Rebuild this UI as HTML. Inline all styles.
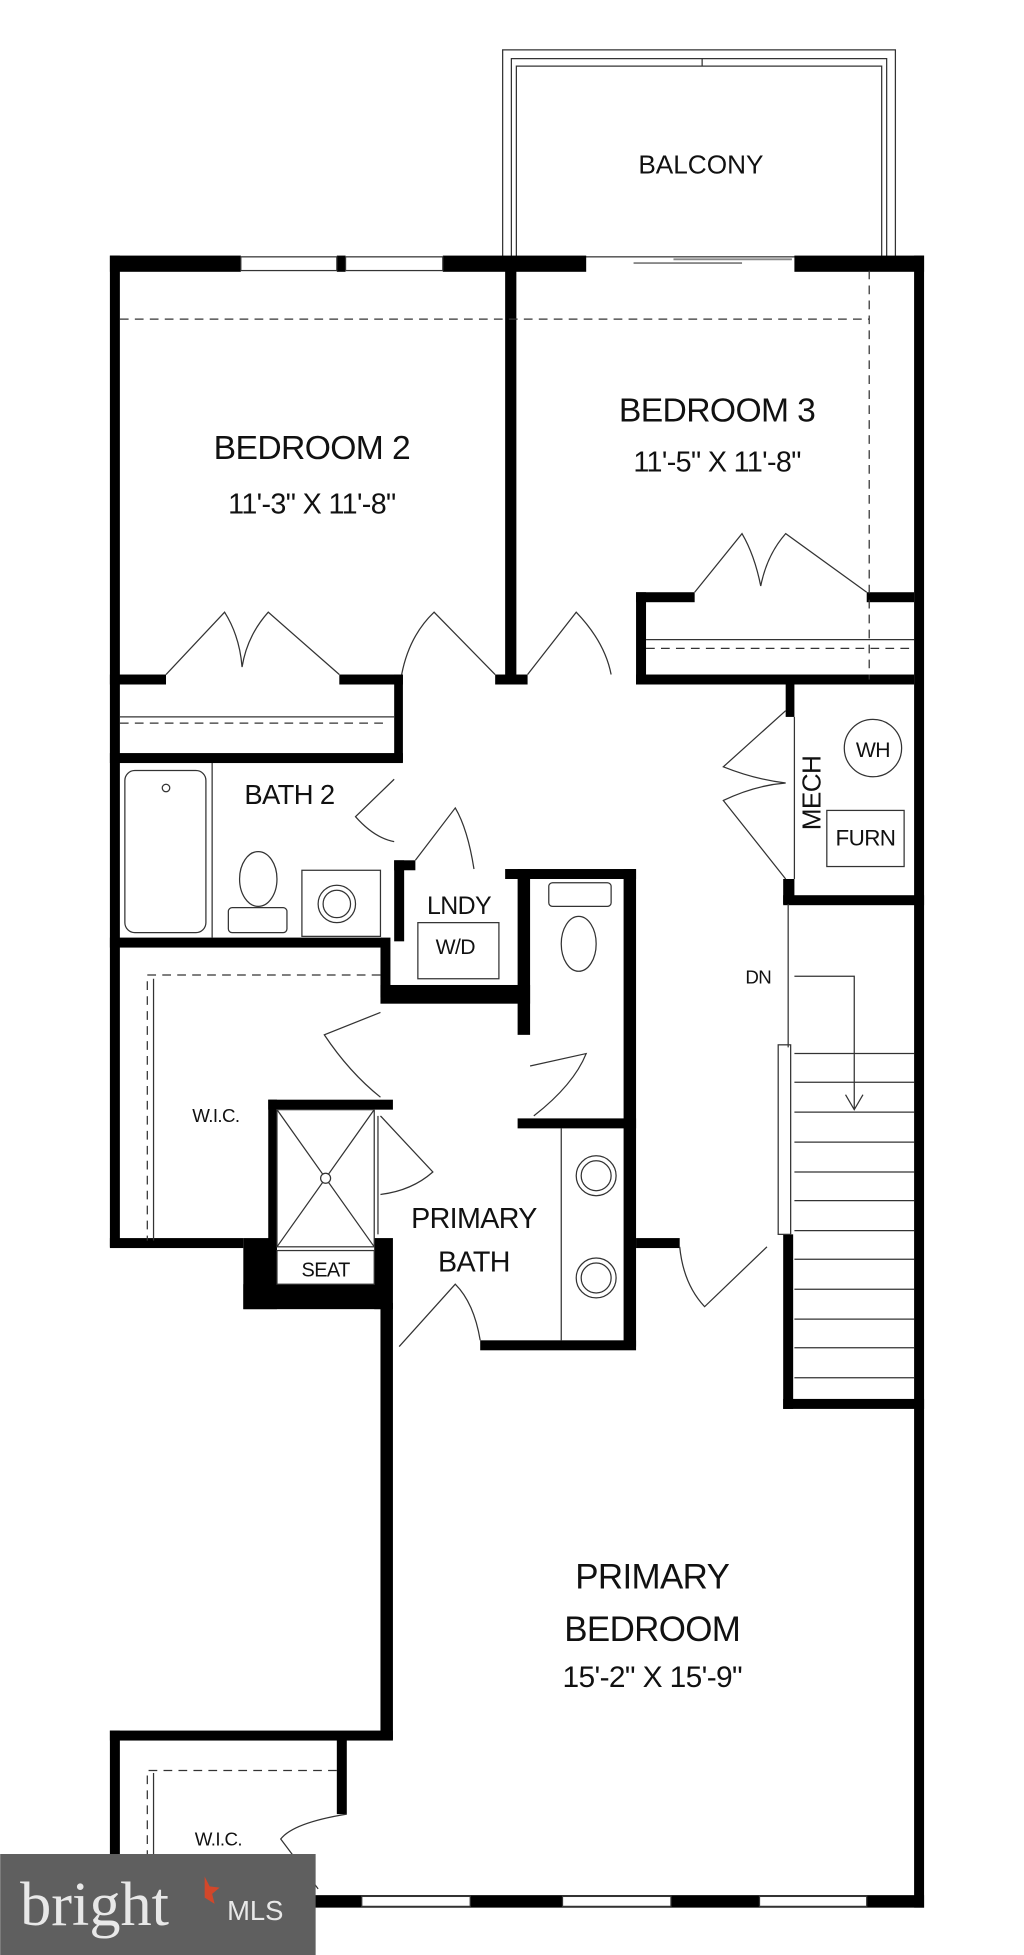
<!DOCTYPE html>
<html><head><meta charset="utf-8"><style>
html,body{margin:0;padding:0;background:#fff;}
svg{display:block;}
text{font-family:"Liberation Sans",sans-serif;fill:#111;}
</style></head><body>
<svg width="1024" height="1955" viewBox="0 0 821 1568" xmlns="http://www.w3.org/2000/svg">
<rect width="821" height="1568" fill="#fff"/>
<g fill="none" stroke="#333" stroke-width="1">
<rect x="403" y="40" width="315" height="166"/>
<path d="M410 206 V47 H711 V206"/>
<path d="M414 206 V53 H707 V206"/>
<line x1="563" y1="47" x2="563" y2="53"/>
</g>
<text x="562" y="139" font-size="21" text-anchor="middle">BALCONY</text>
<g fill="#000">
<rect x="88" y="205" width="105" height="13"/>
<rect x="270" y="205" width="7" height="13"/>
<rect x="355" y="205" width="115" height="13"/>
<rect x="637" y="205" width="104" height="13"/>
<rect x="88" y="205" width="8" height="795"/>
<rect x="733" y="205" width="8" height="1325"/>
<rect x="405" y="217" width="9" height="332"/>
<rect x="510" y="475" width="47" height="8"/>
<rect x="695" y="475" width="38" height="8"/>
<rect x="510" y="475" width="8" height="74"/>
<rect x="88" y="541" width="45" height="8"/>
<rect x="272" y="541" width="51" height="8"/>
<rect x="397" y="541" width="26" height="8"/>
<rect x="510" y="541" width="223" height="8"/>
<rect x="316" y="541" width="7" height="70"/>
<rect x="88" y="604" width="235" height="8"/>
<rect x="88" y="752" width="218" height="8"/>
<rect x="305" y="752" width="8" height="48"/>
<rect x="316" y="690" width="8" height="65"/>
<rect x="316" y="690" width="17" height="8"/>
<rect x="405" y="697" width="105" height="8"/>
<rect x="415" y="697" width="10" height="133"/>
<rect x="500" y="697" width="10" height="383"/>
<rect x="305" y="790" width="120" height="15"/>
<rect x="415" y="897" width="95" height="8"/>
<rect x="88" y="993" width="107" height="8"/>
<rect x="215" y="882" width="100" height="8"/>
<rect x="215" y="882" width="7" height="113"/>
<rect x="195" y="993" width="27" height="57"/>
<rect x="195" y="1030" width="110" height="20"/>
<rect x="300" y="993" width="15" height="57"/>
<rect x="305" y="1045" width="10" height="350"/>
<rect x="385" y="1075" width="125" height="8"/>
<rect x="510" y="993" width="35" height="8"/>
<rect x="630" y="548" width="7" height="27"/>
<rect x="628" y="705" width="9" height="20"/>
<rect x="628" y="718" width="113" height="8"/>
<rect x="628" y="990" width="8" height="140"/>
<rect x="628" y="1122" width="113" height="8"/>
<rect x="88" y="1388" width="227" height="8"/>
<rect x="88" y="1388" width="8" height="142"/>
<rect x="270" y="1395" width="8" height="60"/>
<rect x="88" y="1520" width="653" height="10"/>
</g>
<g fill="#fff" stroke="#333" stroke-width="1">
<rect x="290" y="1521" width="87" height="8"/>
<rect x="451" y="1521" width="87" height="8"/>
<rect x="609" y="1521" width="86" height="8"/>
<rect x="193" y="206" width="77" height="11"/>
<rect x="277" y="206" width="78" height="11"/>
</g>
<g stroke="#888" stroke-width="1.5"><line x1="508" y1="211" x2="595" y2="211"/><line x1="540" y1="208" x2="635" y2="208"/></g>
<g fill="none" stroke="#333" stroke-width="1" stroke-dasharray="7,5">
<line x1="96" y1="256" x2="697" y2="256"/>
<line x1="697" y1="217" x2="697" y2="545"/>
<line x1="518" y1="520" x2="733" y2="520"/>
<line x1="96" y1="580" x2="310" y2="580"/>
<path d="M305 782 H118 V995"/>
<path d="M270 1420 H118 V1520"/>
</g>
<g stroke="#333" stroke-width="1" fill="none">
<line x1="518" y1="513" x2="733" y2="513"/>
<line x1="96" y1="575" x2="316" y2="575"/>
<line x1="123" y1="785" x2="123" y2="995"/>
<line x1="123" y1="1422" x2="123" y2="1520"/>
<path d="M557 475 L595 428 Q605 445 610 470 Q615 445 630 428 L695 475"/>
<path d="M133 541 L180 491 Q192 510 194 535 Q198 510 215 491 L272 541"/>
<path d="M397 541 L348 491 Q328 510 322 541"/>
<path d="M423 541 L462 491 Q485 515 490 541"/>
<path d="M316 625 L285 655 Q300 672 316 675"/>
<path d="M333 690 L365 648 Q375 665 380 697"/>
<path d="M630 570 L580 615 Q605 625 630 628 Q605 630 580 642 L630 705"/>
<path d="M425 855 L470 845 Q460 870 428 895"/>
<path d="M305 812 L260 830 Q280 860 305 880"/>
<path d="M305 895 L347 940 Q330 955 305 958"/>
<line x1="303" y1="895" x2="303" y2="990"/>
<path d="M320 1080 L365 1030 Q380 1045 385 1075"/>
<path d="M545 1000 Q548 1030 565 1048 L615 1000"/>
<path d="M278 1455 Q235 1462 225 1475 L255 1515"/>
<rect x="100" y="618" width="65" height="130" rx="8"/>
<line x1="170" y1="612" x2="170" y2="752"/>
<circle cx="133" cy="632" r="3"/>
<ellipse cx="207" cy="705" rx="15" ry="22"/>
<rect x="183" y="728" width="47" height="20" rx="3"/>
<rect x="242" y="698" width="63" height="53"/>
<circle cx="270" cy="725" r="15"/>
<circle cx="270" cy="725" r="11"/>
<rect x="335" y="740" width="65" height="45"/>
<rect x="440" y="708" width="50" height="19" rx="3"/>
<ellipse cx="464" cy="757" rx="14" ry="22"/>
<line x1="450" y1="905" x2="450" y2="1075"/>
<circle cx="478" cy="943" r="16"/><circle cx="478" cy="943" r="12"/>
<circle cx="478" cy="1025" r="16"/><circle cx="478" cy="1025" r="12"/>
<rect x="222" y="890" width="78" height="110"/>
<line x1="222" y1="890" x2="300" y2="1000"/><line x1="300" y1="890" x2="222" y2="1000"/>
<circle cx="261" cy="945" r="4" fill="#fff"/>
<rect x="222" y="1003" width="78" height="27" fill="#fff"/>
<line x1="637" y1="575" x2="637" y2="705"/>
<circle cx="700" cy="600" r="23"/>
<rect x="663" y="650" width="62" height="45"/>
<line x1="632" y1="725" x2="632" y2="840"/>
<rect x="624" y="838" width="10" height="152"/>
<path d="M637 783 H685 V890 M678 878 L685 890 L692 878"/>
<line x1="637" y1="845" x2="733" y2="845"/>
<line x1="637" y1="868" x2="733" y2="868"/>
<line x1="637" y1="892" x2="733" y2="892"/>
<line x1="637" y1="916" x2="733" y2="916"/>
<line x1="637" y1="940" x2="733" y2="940"/>
<line x1="637" y1="963" x2="733" y2="963"/>
<line x1="637" y1="987" x2="733" y2="987"/>
<line x1="637" y1="1010" x2="733" y2="1010"/>
<line x1="637" y1="1034" x2="733" y2="1034"/>
<line x1="637" y1="1058" x2="733" y2="1058"/>
<line x1="637" y1="1081" x2="733" y2="1081"/>
<line x1="637" y1="1105" x2="733" y2="1105"/>
</g>
<g text-anchor="middle" style="letter-spacing:-0.5px">
<text x="250" y="368" font-size="27">BEDROOM 2</text>
<text x="250" y="412" font-size="23">11'-3" X 11'-8"</text>
<text x="575" y="338" font-size="27">BEDROOM 3</text>
<text x="575" y="378" font-size="23">11'-5" X 11'-8"</text>
<text x="232" y="645" font-size="22">BATH 2</text>
<text x="368" y="733" font-size="20">LNDY</text>
<text x="365" y="765" font-size="17">W/D</text>
<text x="173" y="900" font-size="15">W.I.C.</text>
<text x="261" y="1024" font-size="16">SEAT</text>
<text x="380" y="985" font-size="23">PRIMARY</text>
<text x="380" y="1020" font-size="23">BATH</text>
<text x="700" y="607" font-size="17">WH</text>
<text x="694" y="678" font-size="18">FURN</text>
<text x="608" y="789" font-size="15">DN</text>
<text x="523" y="1274" font-size="28">PRIMARY</text>
<text x="523" y="1316" font-size="28">BEDROOM</text>
<text x="523" y="1353" font-size="24">15'-2" X 15'-9"</text>
<text x="175" y="1480" font-size="15">W.I.C.</text>
<text transform="translate(658 636) rotate(-90)" font-size="21">MECH</text>
</g>
<rect x="0" y="1487" width="253" height="81" fill="#5f5f5f"/>
<text x="16" y="1544" style="font-family:'Liberation Serif',serif;font-size:50px;fill:#e8e8e8">bright</text>
<path d="M164 1505 l4 8 8 1 -6 5 2 8 -8 -5 z" fill="#d2472a"/>
<text x="182" y="1540" style="font-size:22px;fill:#e8e8e8">MLS</text>
</svg>
</body></html>
